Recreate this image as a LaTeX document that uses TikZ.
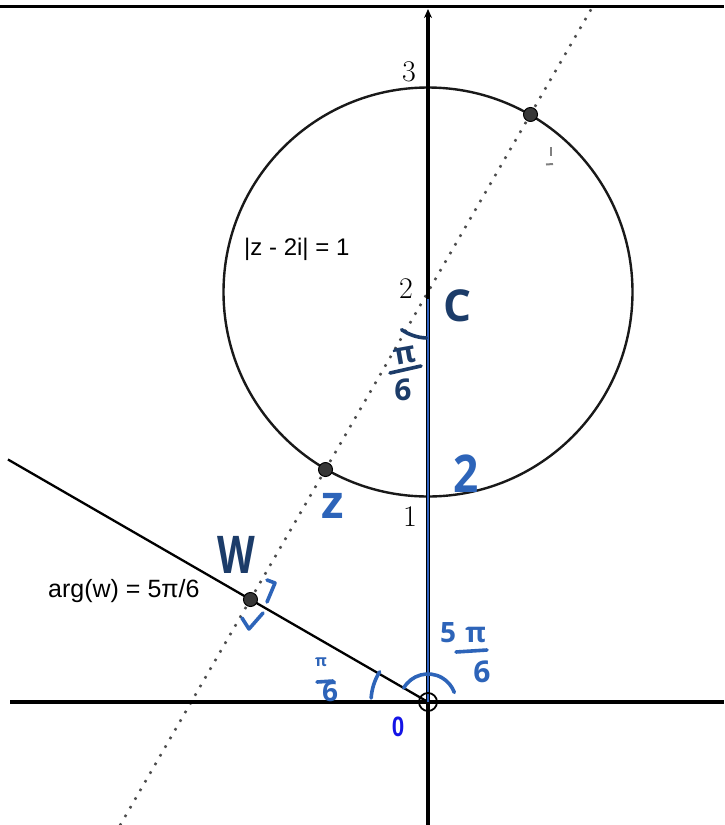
\documentclass[tikz,border=0pt]{standalone}
\usepackage{fontspec}
\newfontfamily\arialf{Liberation Sans}
\newfontfamily\handf{Open Sans}
\usetikzlibrary{arrows.meta}
\definecolor{navyh}{RGB}{28,60,105}
\definecolor{blueh}{RGB}{45,100,185}
\definecolor{blueline}{RGB}{50,100,195}
\definecolor{zerob}{RGB}{20,20,230}
\definecolor{ptfill}{RGB}{55,55,55}
\begin{document}
\begin{tikzpicture}[x=1pt,y=-1pt,
  axis/.style={line width=3.2pt,black},
  circ/.style={line width=2.4pt,black!90},
  dotl/.style={line width=2.5pt,black!70,dash pattern=on 2.5pt off 7.5pt},
  pt/.style={circle,draw=black,line width=1pt,fill=ptfill,minimum size=14pt,inner sep=0pt},
  tick/.style={font=\fontsize{30}{30}\selectfont,inner sep=0pt},
  lab/.style={font=\arialf\fontsize{24}{24}\selectfont,inner sep=0pt,anchor=west},
  hand/.style={inner sep=0pt},
  hstroke/.style={line width=3.6pt,line cap=round,line join=round}]
\useasboundingbox (0,0) rectangle (724,825);
\fill[white] (0,0) rectangle (724,825);
% geometry in math units
\begin{scope}[shift={(428,702)},x=205pt,y=205pt]
  \coordinate (O) at (0,0);
  \coordinate (C) at (0,2);
  \coordinate (Z) at (-0.5,1.134);
  \coordinate (Zp) at (0.5,2.866);
  \coordinate (W) at (-0.866,0.5);
  \coordinate (La) at (-1.503,-0.603);
  \coordinate (Lb) at (0.809,3.402);
  \coordinate (Aend) at (-2.049,1.183);
  \coordinate (Ctop) at (0,1.965);
\end{scope}
\coordinate (tl) at (0,6.5);
\coordinate (tr) at (724,6.5);
\coordinate (xl) at (10,702);
\coordinate (xr) at (724,702);
\coordinate (yb) at (428,825);
\coordinate (yt) at (428,9);
% frame line and axes
\draw[line width=3pt] (tl) -- (tr);
\draw[circ] (C) circle[radius=204.5pt];
\draw[dotl] (La) -- (Lb);
\draw[axis] (xl) -- (xr);
\draw[axis,-{Stealth[length=9pt,width=8pt]}] (yb) -- (yt);
\draw[line width=2.3pt] (O) -- (Aend);
\draw[blueline,line width=2.4pt] (O) -- (Ctop);
% points
\node[pt] (pz) at (Z) {};
\node[pt] (pzp) at (Zp) {};
\node[pt] (pw) at (W) {};
\node[circle,draw,line width=1.8pt,minimum size=18pt,inner sep=0pt] (po) at (O) {};
% tick labels
\node[tick] (t3) at (409,72) {3};
\node[tick] (t2) at (406,289) {2};
\node[tick] (t1) at (410,517) {1};
\node[font=\arialf\bfseries\fontsize{28}{28}\selectfont,text=zerob,xscale=0.8,inner sep=0pt] (zero) at (398,727) {0};
% printed labels
\node[lab] (clab) at (244,249) {|z - 2i| = 1};
\node[lab,font=\arialf\fontsize{25}{25}\selectfont] (alab) at (48,591) {arg(w) = 5π/6};
% faint mark
\draw[gray,line width=2pt] (551,147) -- (551,156);
\draw[gray,line width=2pt] (546,164.5) -- (553,164);
% handwritten annotations
\node[hand,text=navyh,font=\handf\bfseries\fontsize{44}{44}\selectfont] (cl) at (458,306) {C};
\node[hand,text=navyh,font=\handf\bfseries\fontsize{52}{52}\selectfont,xscale=0.75] (wl) at (236,555) {W};
\node[hand,text=blueh,font=\handf\bfseries\fontsize{52}{52}\selectfont,xscale=0.85] (twol) at (466,474) {2};
\node[hand,text=blueh,font=\handf\bfseries\fontsize{46}{46}\selectfont] (zl) at (333,506) {z};
% pi/6 near C
\node[hand,text=navyh,font=\handf\bfseries\fontsize{30}{30}\selectfont,rotate=10] (pic) at (405,356) {π};
\draw[navyh,hstroke] (390,373) -- (421,366);
\node[hand,text=navyh,font=\handf\bfseries\fontsize{30}{30}\selectfont] (sixc) at (403,390) {6};
% 5pi/6 at origin
\node[hand,text=blueh,font=\handf\bfseries\fontsize{28}{28}\selectfont] (fivepi) at (463,633) {5\,\,π};
\draw[blueh,hstroke] (456,652) -- (487,650);
\node[hand,text=blueh,font=\handf\bfseries\fontsize{30}{30}\selectfont] (sixo) at (482,672) {6};
% pi/6 bottom
\node[hand,text=blueh,font=\handf\bfseries\fontsize{16}{16}\selectfont] (pib) at (321,662) {π};
\draw[blueh,hstroke] (317,682) -- (333,681);
\node[hand,text=blueh,font=\handf\bfseries\fontsize{28}{28}\selectfont] (sixb) at (330,692) {6};
% arcs
\begin{scope}[shift={(428,702)},x=205pt,y=205pt]
  \draw[navyh,hstroke] (C) ++(235:46pt) arc[start angle=235,end angle=268,radius=46pt];
  \draw[blueh,hstroke] (O) ++(150:28pt) arc[start angle=150,end angle=20,radius=28pt];
  \draw[blueh,hstroke] (O) ++(148:57pt) arc[start angle=148,end angle=176,radius=57pt];
\end{scope}
% right angle marker at W
\draw[blueh,hstroke] (267,580) -- (275,583) -- (267,602);
\draw[blueh,hstroke] (242,618) -- (249,629) -- (263,613);
\end{tikzpicture}
\end{document}
